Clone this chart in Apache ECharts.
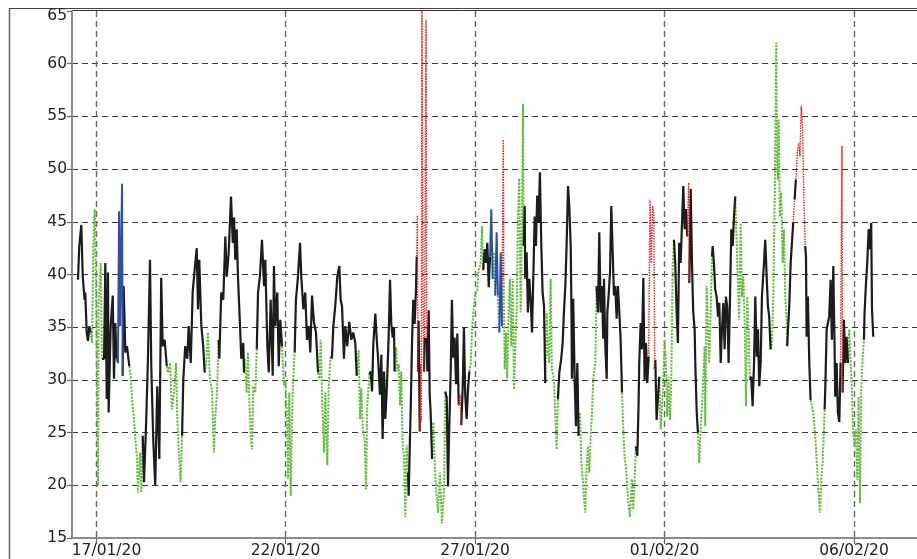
<!DOCTYPE html>
<html>
<head>
<meta charset="utf-8">
<script src="https://cdn.jsdelivr.net/npm/echarts@6/dist/echarts.min.js"></script>
<style>
  html, body { margin: 0; padding: 0; background: #ffffff; }
  #chart { width: 917px; height: 559px; }
</style>
</head>
<body>
<div id="chart"></div>
<script>
// Hour zero of the record: 17/01/20 00:00 (UTC)
const originUTC = Date.UTC(2020, 0, 17);

// Hours since origin for every reading
const hours = [
  -11.4,-10.6,-9.3,-8.4,-7.2,-6.8,-5.9,-5.1,-4.2,-3.4,
  -2.5,-1.7,-0.8,0,1.3,1.7,3.0,3.8,5.1,5.9,
  6.8,7.6,8.0,9.3,10.6,11.4,12.2,13.1,13.9,14.6,
  15.2,16.5,16.9,17.5,18.6,19.6,21.1,22.0,22.8,23.9,
  24.9,26.0,26.6,27.9,28.7,29.6,30.4,31.7,32.9,34.2,
  35.0,36.3,37.5,38.8,40.1,41.3,42.2,43.5,44.8,45.6,
  46.9,48.1,49.4,50.7,51.5,52.7,53.6,54.5,55.3,56.5,
  57.8,58.7,60.0,61.2,62.5,63.8,64.6,65.4,66.7,67.9,
  68.8,69.7,70.9,72.2,73.5,74.7,75.5,76.6,77.7,78.1,
  79.3,80.6,81.9,82.8,84.0,85.5,86.6,87.4,88.2,89.1,
  89.9,91.2,92.0,93.3,93.7,94.2,95.4,96.2,97.1,98.0,
  98.8,99.6,100.9,101.8,102.6,103.8,105.1,106.4,107.2,108.5,
  109.4,110.6,111.9,112.7,113.5,114.8,115.7,116.7,117.8,118.2,
  119.0,119.9,120.8,121.6,122.4,123.3,124.1,124.9,125.8,126.6,
  127.9,129.2,130.0,131.3,132.5,133.6,134.7,135.7,136.8,138.0,
  139.3,140.6,141.4,142.3,143.1,144.4,145.2,146.5,147.3,148.6,
  149.4,150.3,151.5,152.8,154.1,154.9,155.8,157.0,157.9,159.1,
  160.4,161.7,162.9,164.2,165.1,166.3,167.2,168.0,168.9,170.1,
  171.0,171.8,173.1,173.9,174.8,175.6,176.9,177.7,178.6,179.8,
  180.7,181.5,182.4,183.2,184.1,185.3,186.2,187.0,187.9,188.7,
  189.1,190.0,190.8,191.7,192.5,193.3,194.2,195.0,195.9,196.7,
  197.6,198.0,198.8,199.3,200.1,200.9,201.8,202.6,203.1,203.5,
  203.9,204.3,205.0,205.6,206.0,206.4,207.1,207.7,208.1,209.0,
  209.4,209.8,210.7,211.3,211.9,212.8,213.6,214.5,215.3,216.6,
  217.8,219.1,220.4,221.2,222.1,222.9,223.7,224.6,225.4,226.2,
  227.1,228.0,228.8,229.7,230.5,231.3,232.2,233.0,233.8,234.7,
  235.6,236.4,237.3,238.1,238.9,240.2,241.4,242.3,243.6,244.4,
  245.2,246.1,247.0,247.8,248.7,249.5,250.3,251.2,252.0,252.8,
  253.7,254.5,255.4,256.3,257.1,257.9,258.2,258.8,259.6,260.4,
  261.3,262.1,263.0,263.9,264.7,265.5,266.4,267.2,268.0,268.9,
  269.7,270.4,270.8,271.5,271.8,272.7,273.5,274.4,275.2,276.1,
  276.9,277.8,278.6,279.4,280.3,281.1,282.0,282.8,283.7,284.5,
  285.4,286.2,287.0,287.9,288.7,290.0,290.8,291.7,292.5,293.4,
  294.6,295.5,296.3,297.2,298.0,298.9,299.7,300.6,301.0,301.4,
  302.2,303.1,303.9,304.8,305.6,306.5,307.3,308.2,309.0,309.8,
  310.7,311.5,312.4,313.2,314.1,314.9,316.2,317.0,317.9,318.7,
  319.6,320.4,321.2,321.7,322.5,323.4,323.8,324.6,325.5,326.3,
  327.2,328.0,328.8,329.7,330.5,331.4,332.2,333.1,333.9,334.8,
  335.6,336.4,337.3,338.1,339.4,340.2,341.1,341.9,342.8,343.6,
  344.0,344.9,345.7,346.6,347.4,348.3,349.1,350.0,350.8,351.6,
  352.5,353.3,353.8,354.2,355.0,355.9,356.7,357.6,358.4,359.2,
  360.1,360.9,361.7,362.6,363.5,364.3,365.2,366.0,366.8,367.7,
  368.5,369.3,370.2,371.1,371.9,372.8,373.6,374.4,375.3,375.7,
  376.6,377.4,378.2,379.1,379.5,380.4,381.2,382.0,382.9,383.7,
  384.6,385.4,385.8,386.7,387.5,388.3,389.2,390.1,390.5,391.3,
  392.1,393.0,393.9,394.7,395.6,396.4,397.2,398.1,398.9,399.7,
  400.6,401.5,402.3,403.2,404.0,404.8,405.7,406.5,407.3,408.2,
  409.1,409.9,410.8,411.6,412.4,413.3,414.1,414.9,415.8,416.7,
  417.5,418.4,419.2,420.0,420.9,421.7,423.0,423.8,424.7,425.5,
  426.3,427.2,428.0,428.9,429.8,430.8,431.1,431.8,432.3,433.1,
  433.9,434.8,435.6,436.5,437.4,437.7,438.2,439.0,439.9,440.7,
  441.5,442.4,443.2,444.1,445.0,445.8,446.6,447.5,448.3,449.1,
  449.6,450.0,450.8,451.7,452.5,453.4,454.2,455.1,455.9,456.7,
  457.6,458.4,459.3,460.1,461.0,461.4,461.8,462.7,463.5,464.3,
  465.2,466.0,466.9,467.7,468.1,469.0,469.8,470.7,471.5,472.4,
  472.8,473.6,474.5,475.3,476.2,477.0,477.9,478.7,479.5,480.4,
  481.2,482.1,482.9,483.8,484.6,485.5,486.3,486.7,487.6,488.4,
  489.3,490.1,490.9,491.4,492.2
];

// Reading at each of those hours
const values = [
  39.5,42.7,44.7,39.8,37.6,38.3,34.5,33.7,35.1,34.5,
  33.5,42.7,46.2,38.9,20,37.6,41.1,32,32,41.1,
  28.2,40.2,26.9,35.1,38,30.1,35.4,32,31.6,46,
  35.1,48.6,30.4,38.9,32.6,33.2,31.3,30.4,28.2,26.6,
  24.4,22.5,19.3,23.1,19.3,24.7,20.3,25.7,32,41.4,
  31.3,24.1,20,29.4,22.5,39.7,33.2,33.8,31.3,30.7,
  31.6,27.2,28.8,31.6,26.3,22.5,20.3,24.7,30.1,33.2,
  32,35.1,31.6,38.3,40.5,42.5,36.7,41.4,35.1,33.2,
  30.7,31.3,34.5,30.1,28.8,23.1,26.3,28.8,33.8,32,
  38.3,37.6,43.6,39.8,42,47.4,43,45.4,41.4,44.3,
  39.8,35.1,32,33.5,30.7,32,28.8,32.6,28.2,24.7,
  23.4,29.4,28.8,32.9,38.3,39.8,43.3,38.9,41.4,33.2,
  30.7,37.6,30.4,40.8,35.1,38.3,31.3,35.7,33.2,32,
  29.5,30,26.9,20.6,28.8,19,26.3,30.1,32.6,37.6,
  39.8,43,39.8,36.7,38.3,33.8,35.1,32.6,38,35.5,
  34.5,30.7,30.1,33.8,28.8,23.1,28.8,21.9,29.1,32.3,
  32,35.1,37,39.8,40.8,37.6,37,32,35.1,33.2,
  35.5,33.8,34.5,33.5,30.4,32.8,26.3,29.2,25.4,24.4,
  19.6,27.6,30.5,30.8,28.9,33.4,36.3,34,32.1,28.6,
  32.4,24.4,30.8,26.3,28.9,34,39.5,35.3,34,35,
  30.8,33.1,30.8,31.5,27.6,30.8,23.8,22.8,17,23.8,
  21.2,19,24.4,27.3,33.4,37.6,35.3,38.5,41.7,45.6,
  30.8,35.6,25.1,31.5,26,66.5,37.2,30.8,34,64.2,
  34,30.8,36.6,28.6,27,22.5,26,22.2,19.6,17.4,
  21.2,16.4,19.6,28.9,28.3,19.9,25.4,30.8,37.6,32.1,
  34,29.6,34.4,27.6,28.6,25.7,29.2,35,28.6,26.3,
  29.2,30.8,31.5,34.7,36.3,38.2,38.5,40.4,41.1,44.6,
  40.4,42.4,41.1,43,38.8,41.7,46.2,39.6,42.1,38,
  44,38,34.5,42.1,35.1,52.8,39.6,31,34.5,30.1,
  36.4,39.6,33.2,39.6,29.1,33.2,36.4,45.3,49.1,36.4,
  44.3,56.2,42.7,46.5,39.6,42.1,36.4,39.6,37.7,34.5,
  39.6,45.5,42.7,47.5,44.9,49.7,42.7,38.3,37,29.7,
  36.4,32.6,31.6,39.6,31,30.1,26.9,23.4,28.2,30.7,
  32,33.5,36.4,38.9,42.7,48.4,46.5,42.7,37.7,30.1,
  37.7,30.1,25.6,31.6,24.7,26.9,22.2,20.6,19,17.4,
  21.8,23.7,21.2,24.4,26.9,30.1,31.6,38.9,36.4,44,
  36.4,38.9,33.9,39.6,33.2,30.1,36.4,38,40.2,46.5,
  42.1,38,38.9,35.8,38.9,36.4,33.9,28.8,25.3,22.5,
  21.8,19.9,18,17,20.6,17.7,20.5,23.7,22.8,27.8,
  31.6,35.4,32.9,39.7,30,33.5,29.7,32.2,47.1,41.1,
  46.5,45.5,31,31.9,26.2,28.4,30.3,25.3,25.3,29.7,
  33.8,31.6,26.5,30.3,26.2,30,40.8,43.3,41.1,36.4,
  33.5,43,41.1,44.9,48.4,44.3,46.2,43.6,48.7,39.2,
  48.1,41.1,36.4,34.8,31.6,26.9,25,22.1,25.3,27.5,
  30,33.2,25.6,38.9,35.4,31.6,36,41.7,42.7,41.1,
  38.6,37.9,36,37.3,31.6,34.8,37.3,32.9,37.9,37,
  31.6,37.9,44.3,42.7,45.5,47.4,43,39.2,35.7,44.9,
  37.9,39.8,35.4,27.5,37.9,34.8,30,30.3,27.5,31.6,
  37.9,32.2,34.8,29.4,31.6,37.9,41.1,43.3,39.8,37,
  36,32.9,33.5,37.9,47.4,62,51.6,49,54.7,45.5,
  47.8,41.1,44.3,37.9,35.4,33.2,34.8,37,41.1,43,
  44.9,47.1,49,51.5,52.5,51.2,56,53.8,46.8,42.7,
  41.7,34.1,37.9,31.6,28.1,27.5,26.9,25.3,23.7,21.5,
  19,17.4,20.5,22.1,25.3,27.2,29.1,34.8,35.4,36,
  39.5,33.8,40.8,33.2,28.4,31.6,26.9,26,31.6,52.2,
  28.8,35.7,31.6,34.1,31.6,34.8,31.6,29.1,25.3,23.7,
  25.3,20.5,28.4,18.3,29.1,32.2,33.8,36.4,39.2,41.1,
  44.3,42.4,44.9,36.7,34.1
];

// Class of each reading: k = black, g = green, r = red, b = blue
const classes = (
  'kkkkkkkkkk' + 'ggggggggkk' + 'kkkkkkkkbb' + 'bbbkkkkggg' + 'ggggggkkkk' +
  'kkkkkkkkkg' + 'ggggggggkk' + 'kkkkkkkkkk' + 'kggggggggk' + 'kkkkkkkkkk' +
  'kkkkkggggg' + 'ggggkkkkkk' + 'kkkkkkkkkg' + 'gggggggggk' + 'kkkkkkkkkk' +
  'kkgggggggg' + 'gkkkkkkkkk' + 'kkkkkggggg' + 'gggkkkkkkk' + 'kkkkkkkkkk' +
  'kggggggggg' + 'gkkkkkkkkr' + 'rkkrrrrrkr' + 'rkkkkkgggg' + 'ggggkkkkkk' +
  'kkkkrrkkkk' + 'kkgggggggg' + 'gkkkkkbbgg' + 'bbgbbrrggg' + 'gggggggggg' +
  'gggkkkkkkk' + 'kkkkkkkkkk' + 'gggggggggk' + 'kkkkkkkkkk' + 'kkkkkggggg' +
  'ggggggggkk' + 'kkkkkkkkkk' + 'kkkkkkkkgg' + 'ggggggggkk' + 'kkkkkkkkrr' +
  'rrrkkkkggg' + 'ggggggggkk' + 'kkkkkkkkrr' + 'kkkkkkkggg' + 'ggggggggkk' +
  'kkkkkkkkkk' + 'kkkkkkgggg' + 'gggggggkkk' + 'kkkkkkkkkk' + 'kkgggggggg' +
  'ggggggkkkk' + 'krkrrrrrrr' + 'kkkkkggggg' + 'ggggggkkkk' + 'kkkkkkkkkr' +
  'rkkkkggggg' + 'gggggggkkk' + 'kkkkk'
).split('');

// Labelled days on the time axis, in hours since origin (17/01, 22/01, 27/01, 01/02, 06/02)
const tickHours = [0, 120, 240, 360, 480];

// Value axis
const yMin = 15, yMax = 65, yStep = 5;

// Visible time window, in hours since origin
const windowStartH = -15.2, windowEndH = 519.9;

// One line per class; each run is joined to the reading before it,
// and runs are separated by gaps.
function runsFor(cls) {
  const out = [];
  for (let i = 0; i < hours.length; i++) {
    if (classes[i] !== cls) continue;
    if (i === 0 || classes[i - 1] !== cls) {
      if (out.length) out.push([hours[i - 1], '-']);
      if (i > 0) out.push([hours[i - 1], values[i - 1]]);
    }
    out.push([hours[i], values[i]]);
  }
  return out;
}

const classStyles = {
  g: { color: '#64bc40', width: 2, type: [2.2, 1.2] },
  k: { color: '#1c1c1c', width: 2.2, type: 'solid' },
  r: { color: '#f01c1c', width: 1.4, type: [1.5, 1.1] },
  b: { color: '#2f50a6', width: 2, type: 'solid' }
};

const pad2 = n => (n < 10 ? '0' : '') + n;
function dateLabel(h) {
  const d = new Date(originUTC + h * 3600000);
  const s = pad2(d.getUTCDate()) + '/' + pad2(d.getUTCMonth() + 1) + '/' + pad2(d.getUTCFullYear() % 100);
  return h === tickHours[0] ? '{first|' + s + '}' : s;
}
function valueLabel(v) {
  return v === yMax ? '{top|' + v + '}' : String(v);
}

const labelFont = { color: '#222', fontSize: 15.5, fontFamily: 'DejaVu Sans, Verdana, sans-serif' };

const chart = echarts.init(document.getElementById('chart'), null, { renderer: 'canvas' });

chart.setOption({
  animation: false,
  backgroundColor: '#ffffff',
  grid: { left: 72, right: 0, top: 11, bottom: 20.5, containLabel: false },
  xAxis: {
    type: 'value',
    min: windowStartH,
    max: windowEndH,
    axisLine: { show: true, onZero: false, lineStyle: { color: '#8c8c8c', width: 2 } },
    axisTick: { show: true, customValues: tickHours, length: 6, lineStyle: { color: '#666', width: 1.2 } },
    axisLabel: Object.assign({}, labelFont, {
      customValues: tickHours,
      showMinLabel: true,
      showMaxLabel: true,
      margin: 5,
      formatter: dateLabel,
      rich: { first: Object.assign({}, labelFont, { padding: [0, 0, 0, 21] }) }
    }),
    splitLine: { show: true, showMinLine: true, showMaxLine: true, lineStyle: { type: [6, 4], color: '#6a6a6a', width: 1.4 } }
  },
  yAxis: {
    type: 'value',
    min: yMin,
    max: yMax,
    interval: yStep,
    axisLine: { show: true, onZero: false, lineStyle: { color: '#8c8c8c', width: 2 } },
    axisTick: { show: true, length: 5, lineStyle: { color: '#666', width: 1.2 } },
    axisLabel: Object.assign({}, labelFont, {
      margin: 5,
      formatter: valueLabel,
      rich: { top: Object.assign({}, labelFont, { padding: [10, 0, 0, 0] }) }
    }),
    splitLine: { show: true, showMaxLine: false, lineStyle: { type: [6, 4], color: '#3a3a3a', width: 1.2 } }
  },
  graphic: [
    { type: 'line', silent: true, shape: { x1: 9.5, y1: 8, x2: 9.5, y2: 559 }, style: { stroke: '#666', lineWidth: 1.5 } },
    { type: 'line', silent: true, shape: { x1: 9.5, y1: 8.5, x2: 917, y2: 8.5 }, style: { stroke: '#444', lineWidth: 1 } },
    { type: 'line', silent: true, shape: { x1: 72, y1: 10.5, x2: 917, y2: 10.5 }, style: { stroke: '#333', lineWidth: 1.2 } }
  ],
  series: ['g', 'k', 'r', 'b'].map(cls => ({
    type: 'line',
    name: cls,
    data: runsFor(cls),
    showSymbol: false,
    symbol: 'none',
    connectNulls: false,
    clip: true,
    lineStyle: classStyles[cls],
    emphasis: { disabled: true }
  }))
});
</script>
</body>
</html>
